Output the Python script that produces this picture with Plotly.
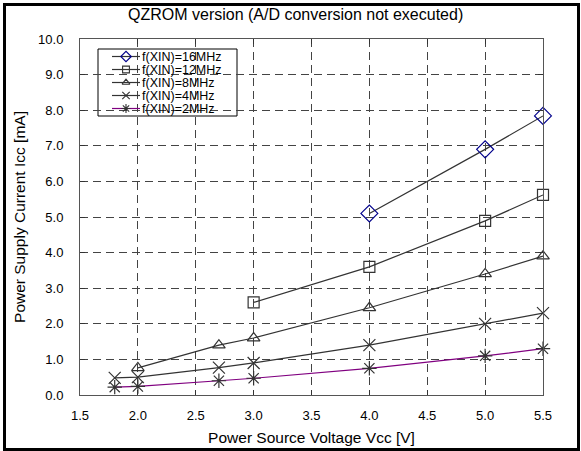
import plotly.graph_objects as go

# Data
vcc_16 = [4.0, 5.0, 5.5]
icc_16 = [5.1, 6.9, 7.84]
vcc_12 = [3.0, 4.0, 5.0, 5.5]
icc_12 = [2.6, 3.6, 4.89, 5.62]
vcc_8 = [2.0, 2.7, 3.0, 4.0, 5.0, 5.5]
icc_8 = [0.76, 1.4, 1.6, 2.45, 3.4, 3.9]
vcc_4 = [1.8, 2.0, 2.7, 3.0, 4.0, 5.0, 5.5]
icc_4 = [0.48, 0.5, 0.77, 0.9, 1.4, 2.0, 2.3]
vcc_2 = [1.8, 2.0, 2.7, 3.0, 4.0, 5.0, 5.5]
icc_2 = [0.22, 0.24, 0.4, 0.47, 0.75, 1.1, 1.3]

names = ["f(XIN)=16MHz", "f(XIN)=12MHz", "f(XIN)=8MHz", "f(XIN)=4MHz", "f(XIN)=2MHz"]
x_ticks = [1.5, 2.0, 2.5, 3.0, 3.5, 4.0, 4.5, 5.0, 5.5]
y_ticks = [0, 1, 2, 3, 4, 5, 6, 7, 8, 9, 10]

gray = "#333333"
navy = "#00008B"
series = [
    (vcc_16, icc_16, names[0], gray, "diamond-open", navy, 13),
    (vcc_12, icc_12, names[1], gray, "square-open", gray, 11),
    (vcc_8, icc_8, names[2], gray, "triangle-up-open", gray, 11),
    (vcc_4, icc_4, names[3], gray, "x-thin-open", gray, 12),
    (vcc_2, icc_2, names[4], "#800080", "asterisk-open", gray, 12),
]

W, H = 581, 451
L, R, T, B = 80, 38, 39, 56
pw, ph = W - L - R, H - T - B

fig = go.Figure()
for xs, ys, nm, lc, sym, mc, ms in series:
    fig.add_trace(go.Scatter(x=xs, y=ys, name=nm, mode="lines+markers", showlegend=False,
                             line=dict(color=lc, width=1.2),
                             marker=dict(symbol=sym, size=ms, color=mc, line=dict(width=1.2, color=mc)),
                             cliponaxis=False))

# Manual compact legend on a pixel-space overlay axis
leg_rows = [56.5, 69.5, 82.5, 95.5, 108.5]
shapes = [dict(type="rect", xref="x2", yref="y2", x0=98, x1=237, y0=49, y1=116,
               line=dict(color="black", width=1), fillcolor="white", layer="below")]
annotations = []
for (xs, ys, nm, lc, sym, mc, ms), ry in zip(series, leg_rows):
    fig.add_trace(go.Scatter(x=[112, 140], y=[ry, ry], xaxis="x2", yaxis="y2", mode="lines",
                             line=dict(color=lc, width=1.2), showlegend=False, hoverinfo="skip",
                             cliponaxis=False))
    fig.add_trace(go.Scatter(x=[126], y=[ry], xaxis="x2", yaxis="y2", mode="markers",
                             marker=dict(symbol=sym, size=ms * 0.62, color=mc, line=dict(width=1.1, color=mc)),
                             showlegend=False, hoverinfo="skip", cliponaxis=False))
    annotations.append(dict(text=nm, x=141, y=ry, xref="x2", yref="y2", showarrow=False,
                            xanchor="left", yanchor="middle", font=dict(size=12.5), borderpad=0))

def px(x):
    return (x - L) / pw

def py(y):
    return (H - B - y) / ph

annotations.append(dict(text="QZROM version (A/D conversion not executed)", x=px(295), y=py(14),
                        xref="paper", yref="paper", showarrow=False, xanchor="center", yanchor="middle",
                        font=dict(size=16)))
shapes.append(dict(type="rect", xref="paper", yref="paper", x0=px(4.5), x1=px(578.5), y0=py(449.5), y1=py(4.5),
                   line=dict(color="black", width=3), layer="above"))

fig.update_layout(
    width=W, height=H,
    margin=dict(l=L, r=R, t=T, b=B, autoexpand=False),
    paper_bgcolor="white", plot_bgcolor="white",
    font=dict(family="Liberation Sans, Arial, sans-serif", size=13, color="black"),
    showlegend=False,
    annotations=annotations,
    shapes=shapes,
    xaxis=dict(range=[1.5, 5.5], tickvals=x_ticks, ticktext=[f"{v:.1f}" for v in x_ticks],
               showgrid=True, gridcolor="#444444", griddash="8px,5px", gridwidth=1,
               showline=True, linecolor="#555555", linewidth=1, mirror="ticks",
               ticks="inside", ticklen=5, tickcolor="#333333",
               zeroline=False, ticklabelstandoff=8, automargin=False,
               title=dict(text="Power Source Voltage Vcc [V]", font=dict(size=15.5), standoff=10),
               tickfont=dict(size=13)),
    yaxis=dict(range=[0, 10], tickvals=y_ticks, ticktext=[f"{v:.1f}" for v in y_ticks],
               showgrid=True, gridcolor="#444444", griddash="8px,5px", gridwidth=1,
               showline=True, linecolor="#555555", linewidth=1, mirror="ticks",
               ticks="inside", ticklen=5, tickcolor="#333333",
               zeroline=False, ticklabelstandoff=13, automargin=False,
               title=dict(text="Power Supply Current Icc [mA]", font=dict(size=15.5), standoff=8),
               tickfont=dict(size=13)),
    xaxis2=dict(overlaying="x", anchor="y2", range=[L, W - R], visible=False, showgrid=False, zeroline=False),
    yaxis2=dict(overlaying="y", anchor="x2", range=[H - B, T], visible=False, showgrid=False, zeroline=False),
)

fig.write_html("out.html")
